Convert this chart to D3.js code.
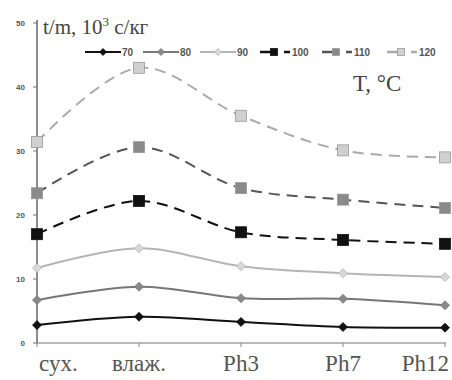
<!DOCTYPE html>
<html>
<head>
<meta charset="utf-8">
<script src="https://cdn.jsdelivr.net/npm/d3@7"></script>
<style>
  body { margin: 0; background: #fff; }
  svg { display: block; }
</style>
</head>
<body>
<svg id="chart" width="452" height="380"></svg>
<script>
const categories = ['сух.', 'влаж.', 'Ph3', 'Ph7', 'Ph12'];
const temps = ['70', '80', '90', '100', '110', '120'];
const yTicks = [0, 10, 20, 30, 40, 50];

const s70 = [2.8, 4.1, 3.3, 2.5, 2.4];
const s80 = [6.7, 8.8, 7.0, 6.9, 5.9];
const s90 = [11.7, 14.8, 12.0, 10.9, 10.3];
const s100 = [17.0, 22.2, 17.3, 16.1, 15.5];
const s110 = [23.4, 30.6, 24.2, 22.4, 21.1];
const s120 = [31.4, 43.0, 35.5, 30.1, 29.0];

// стиль серий: цвет линии, заливка маркера, форма, пунктир
const styles = [
  { stroke: '#111', fill: '#111', shape: 'diamond', dash: null },
  { stroke: '#777', fill: '#888', shape: 'diamond', dash: null },
  { stroke: '#b5b5b5', fill: '#d8d8d8', shape: 'diamond', dash: null },
  { stroke: '#111', fill: '#111', shape: 'square', dash: '11,7' },
  { stroke: '#555', fill: '#8a8a8a', shape: 'square', dash: '11,7' },
  { stroke: '#aaa', fill: '#d0d0d0', shape: 'square', dash: '11,7' }
];
const series = [s70, s80, s90, s100, s110, s120].map((v, i) => ({ name: temps[i], values: v, style: styles[i] }));

const svg = d3.select('#chart');

const x = d3.scalePoint()
  .domain(categories)
  .range([37, 445]);

const y = d3.scaleLinear()
  .domain([0, 50])
  .range([343, 23]);

// оси
svg.append('line')
  .attr('x1', 37).attr('x2', 37)
  .attr('y1', 20).attr('y2', 343)
  .attr('stroke', '#666').attr('stroke-width', 1.5);
svg.append('line')
  .attr('x1', 37).attr('x2', 446)
  .attr('y1', 343).attr('y2', 343)
  .attr('stroke', '#777').attr('stroke-width', 1.2);

svg.selectAll('.ytick')
  .data(yTicks)
  .enter()
  .append('line')
  .attr('x1', 33).attr('x2', 37)
  .attr('y1', d => y(d)).attr('y2', d => y(d))
  .attr('stroke', '#777');

svg.selectAll('.ylab')
  .data(yTicks)
  .enter()
  .append('text')
  .attr('x', 25)
  .attr('y', d => y(d))
  .attr('dy', 3)
  .attr('text-anchor', 'end')
  .attr('font-family', 'Liberation Sans, Arial, sans-serif')
  .attr('font-size', 8)
  .attr('font-weight', 'bold')
  .attr('fill', '#555')
  .text(d => d);

svg.selectAll('.xtick')
  .data(categories)
  .enter()
  .append('line')
  .attr('x1', d => x(d)).attr('x2', d => x(d))
  .attr('y1', 343).attr('y2', 347)
  .attr('stroke', '#888');

svg.selectAll('.xlab')
  .data(categories)
  .enter()
  .append('text')
  .attr('x', (d, i) => i === 0 ? 39 : i === categories.length - 1 ? 449 : x(d))
  .attr('y', 371)
  .attr('text-anchor', (d, i) => i === 0 ? 'start' : i === categories.length - 1 ? 'end' : 'middle')
  .attr('font-family', 'Liberation Serif, Times New Roman, serif')
  .attr('font-size', 23)
  .attr('fill', '#555')
  .text(d => d);

// линии
const line = d3.line()
  .x((d, i) => x(categories[i]))
  .y(d => y(d))
  .curve(d3.curveCatmullRom.alpha(0.5));

const marker = (g, st, cx, cy, big) => {
  if (st.shape === 'diamond') {
    const r = big ? 4.5 : 3.5;
    g.append('path')
      .attr('d', `M${cx},${cy - r}L${cx + r},${cy}L${cx},${cy + r}L${cx - r},${cy}Z`)
      .attr('fill', st.fill).attr('stroke', st.stroke).attr('stroke-width', 0.8);
  } else {
    const r = big ? 5.5 : 3.5;
    g.append('rect')
      .attr('x', cx - r).attr('y', cy - r)
      .attr('width', 2 * r).attr('height', 2 * r)
      .attr('fill', st.fill).attr('stroke', st.stroke === '#111' ? '#111' : '#999').attr('stroke-width', 0.8);
  }
};

series.forEach(s => {
  const g = svg.append('g');
  g.append('path')
    .attr('d', line(s.values))
    .attr('fill', 'none')
    .attr('stroke', s.style.stroke)
    .attr('stroke-width', 2)
    .attr('stroke-dasharray', s.style.dash);
  s.values.forEach((v, i) => marker(g, s.style, x(categories[i]), y(v), true));
});

// легенда
const legendX = [85, 143, 200, 260, 322, 387];
series.forEach((s, i) => {
  const g = svg.append('g');
  const x0 = legendX[i];
  const dashed = !!s.style.dash;
  if (!dashed) {
    g.append('line').attr('x1', x0).attr('x2', x0 + 36).attr('y1', 52).attr('y2', 52)
      .attr('stroke', s.style.stroke).attr('stroke-width', 2);
    marker(g, s.style, x0 + 18, 52, false);
  } else {
    g.append('line').attr('x1', x0).attr('x2', x0 + 14).attr('y1', 52).attr('y2', 52)
      .attr('stroke', s.style.stroke).attr('stroke-width', 2.5);
    g.append('line').attr('x1', x0 + 24).attr('x2', x0 + 30).attr('y1', 52).attr('y2', 52)
      .attr('stroke', s.style.stroke).attr('stroke-width', 2.5);
    marker(g, s.style, x0 + 14, 52, false);
  }
  g.append('text')
    .attr('x', dashed ? x0 + 32 : x0 + 37)
    .attr('y', 55.5)
    .attr('font-family', 'Liberation Sans, Arial, sans-serif')
    .attr('font-size', 10)
    .attr('font-weight', 'bold')
    .attr('fill', '#555')
    .text(s.name);
});

// подписи
const title = svg.append('text')
  .attr('x', 43).attr('y', 34)
  .attr('font-family', 'Liberation Serif, Times New Roman, serif')
  .attr('font-size', 21)
  .attr('fill', '#444');
title.append('tspan').text('t/m, 10');
title.append('tspan').attr('font-size', 13).attr('dy', -8).text('3');
title.append('tspan').attr('dy', 8).text(' с/кг');

svg.append('text')
  .attr('x', 353).attr('y', 91)
  .attr('font-family', 'Liberation Serif, Times New Roman, serif')
  .attr('font-size', 23)
  .attr('fill', '#444')
  .text('T, °C');
</script>
</body>
</html>
